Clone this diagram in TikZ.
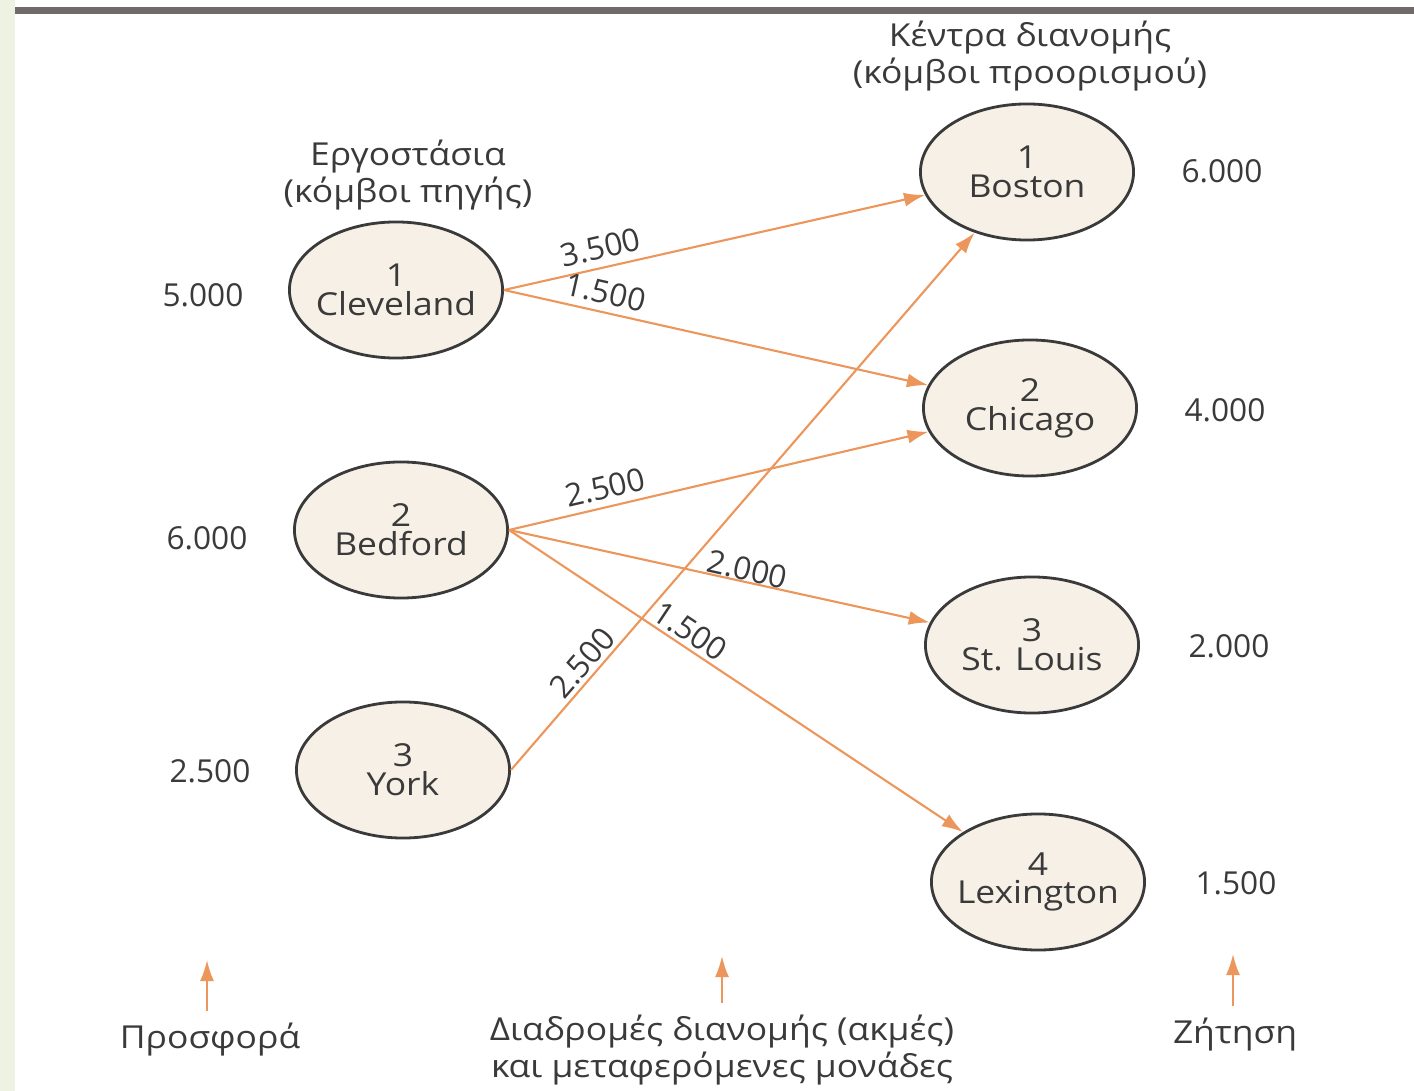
\documentclass[tikz,border=0pt]{standalone}
\usepackage{fontspec}
\setmainfont{Open Sans}
\newfontfamily\widesans{Open Sans}[FakeStretch=1.12]
\usetikzlibrary{arrows.meta,shapes.geometric}
\definecolor{edgeorange}{RGB}{236,150,92}
\definecolor{nodefill}{RGB}{246,240,231}
\definecolor{inkgray}{RGB}{58,58,58}
\definecolor{stripgreen}{RGB}{238,242,226}
\definecolor{bargray}{RGB}{112,106,106}

\begin{document}
\begin{tikzpicture}[x=0.01cm, y=-0.01cm,
    font=\fontsize{9}{8.6}\selectfont, text=inkgray,
    city/.style={ellipse, draw=inkgray, line width=0.8pt, fill=nodefill, align=center,
                 minimum width=2.13cm, minimum height=1.36cm, inner xsep=-5pt, inner ysep=0pt,
                 font=\widesans\fontsize{9}{8.2}\selectfont},
    arr/.style={-{Latex[length=6pt,width=4pt]}, draw=edgeorange, line width=0.6pt},
    qty/.style={sloped, above, inner sep=2pt},
    caption/.style={align=center, font=\widesans\fontsize{9}{8.6}\selectfont}]

    % page frame
    \useasboundingbox (0,0) rectangle (1414,1091);
    \fill[stripgreen] (0,0) rectangle (15,1091);
    \fill[bargray] (15,7) rectangle (1414,14);

    % sources
    \node[caption] (srcTitle) at (408,175) {Εργοστάσια\\(κόμβοι πηγής)};
    \node[city] (cleveland) at (396,290) {1\\Cleveland};
    \node[city] (bedford) at (401,530) {2\\Bedford};
    \node[city] (york) at (403,770) {3\\York};
    \node (sup1) at (203,295) {5.000};
    \node (sup2) at (207,538) {6.000};
    \node (sup3) at (210,771) {2.500};

    % destinations
    \node[caption] (dstTitle) at (1030,56) {Κέντρα διανομής\\(κόμβοι προορισμού)};
    \node[city] (boston) at (1027,172) {1\\Boston};
    \node[city] (chicago) at (1030,408) {2\\Chicago};
    \node[city] (stlouis) at (1032,645) {3\\St. Louis};
    \node[city] (lexington) at (1038,882) {4\\Lexington};
    \node (dem1) at (1222,171) {6.000};
    \node (dem2) at (1225,410) {4.000};
    \node (dem3) at (1229,646) {2.000};
    \node (dem4) at (1236,883) {1.500};

    % routes
    \draw[arr] (cleveland.east) -- node[qty, pos=0.24]{3.500} (boston);
    \draw[arr] (cleveland.east) -- node[qty, pos=0.23]{1.500} (chicago);
    \draw[arr] (bedford.east) -- node[qty, pos=0.24]{2.500} (chicago);
    \draw[arr] (bedford.east) -- node[qty, pos=0.56, inner sep=0pt]{2.000} (stlouis);
    \draw[arr] (bedford.east) -- node[qty, pos=0.38, inner sep=1pt]{1.500} (lexington);
    \draw[arr] (york.east) -- node[qty, pos=0.18, inner sep=1pt]{2.500} (boston);

    % legend
    \node[caption] (supplyLbl) at (210,1040) {Προσφορά};
    \node[caption] (routesLbl) at (722,1050) {Διαδρομές διανομής (ακμές)\\και μεταφερόμενες μονάδες};
    \node[caption] (demandLbl) at (1235,1035) {Ζήτηση};
    \coordinate (supplyTip) at (207,960);
    \coordinate (routesTip) at (722,956);
    \coordinate (demandTip) at (1233,954);
    \draw[arr] (supplyTip |- supplyLbl.north) -- (supplyTip);
    \draw[arr] (routesTip |- routesLbl.north) -- (routesTip);
    \draw[arr] (demandTip |- demandLbl.north) -- (demandTip);
\end{tikzpicture}
\end{document}
